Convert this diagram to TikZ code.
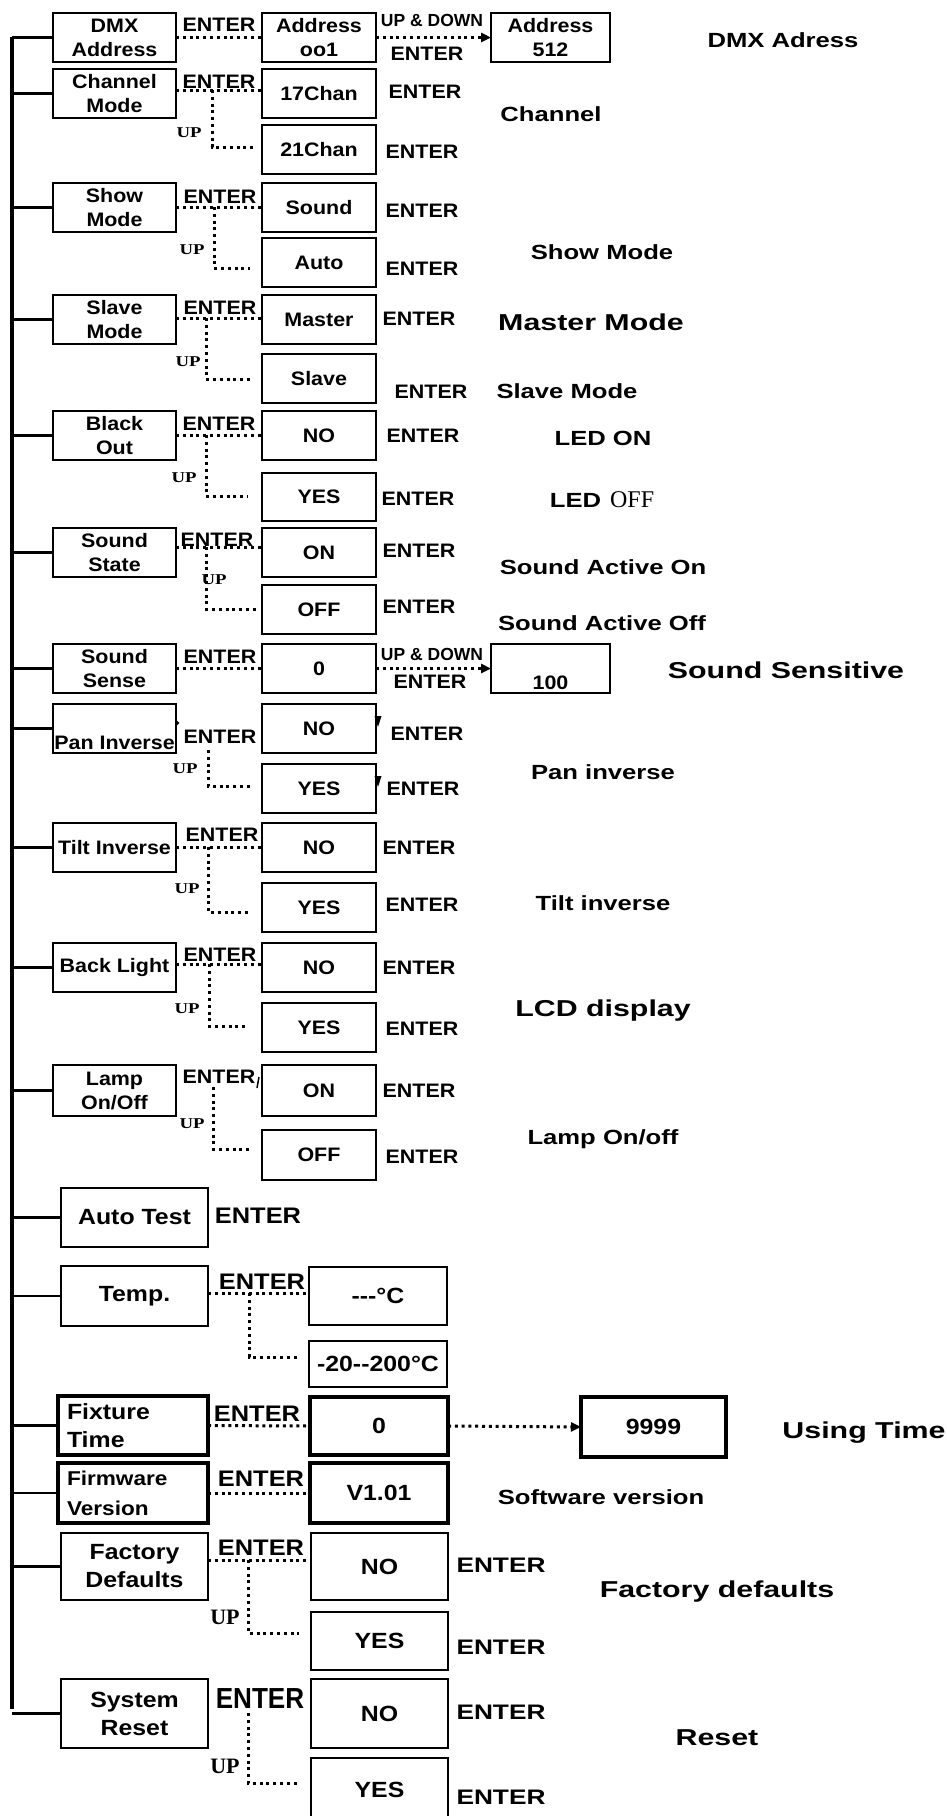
\documentclass[tikz,border=0pt]{standalone}
\usepackage{fontspec}
\usepackage{graphicx}
\usetikzlibrary{arrows.meta}
\setmainfont{Liberation Sans}
\newfontfamily\fBox{Liberation Sans}[FakeStretch=1.1]
\newfontfamily\fSide{Liberation Sans}[FakeStretch=1.25]
\newfontfamily\fBig{Liberation Sans}[FakeStretch=1.32]
\newfontfamily\fLow{Liberation Sans}[FakeStretch=1.13]
\newfontfamily\fNar{Liberation Sans}[FakeStretch=0.9]
\newfontfamily\fPlain{Liberation Sans}
\newfontfamily\fUp{Liberation Serif}[FakeStretch=1.25]
\newfontfamily\fUpL{Liberation Serif}
\newfontfamily\fSer{Liberation Serif}
\newcommand\bx[7][]{\node[box,minimum width={(#5-#3)*1pt},minimum height={(#6-#4)*1pt},#1] (#2) at ({(#3+#5)/2},{(#4+#6)/2}) {#7};}
\tikzset{
 box/.style={draw, line width=2.6pt, inner sep=0pt, outer sep=0pt, align=center, font=\fBox\bfseries\fontsize{19.5}{24}\selectfont},
 lowbox/.style={box, font=\fLow\bfseries\fontsize{22}{28}\selectfont},
 tbox/.style={lowbox, line width=4.2pt},
 mainline/.style={line width=3.6pt},
 stub/.style={line width=2.6pt},
 dots/.style={line width=3pt, dash pattern=on 3pt off 3.8pt},
 darrow/.style={dots, -{Triangle[length=10pt,width=9pt]}},
 enter/.style={inner sep=0pt, font=\fBox\bfseries\fontsize{19.5}{24}\selectfont, text height=14pt, text depth=0pt},
 enterL/.style={inner sep=0pt, font=\fLow\bfseries\fontsize{22.5}{27}\selectfont, text height=16pt, text depth=0pt},
 enterR/.style={inner sep=0pt, font=\fSide\bfseries\fontsize{21}{25}\selectfont, text height=15pt, text depth=0pt},
 enterB/.style={inner sep=0pt, font=\fNar\bfseries\fontsize{29}{34}\selectfont, text height=21pt, text depth=0pt},
 updown/.style={inner sep=0pt, font=\fPlain\bfseries\fontsize{17.5}{20}\selectfont, text height=12.6pt, text depth=0pt},
 up/.style={inner sep=0pt, font=\fUp\bfseries\fontsize{15}{18}\selectfont, text height=10pt, text depth=0pt},
 upL/.style={inner sep=0pt, font=\fUpL\bfseries\fontsize{22}{26}\selectfont, text height=14.6pt, text depth=0pt},
 side/.style={inner sep=0pt, font=\fSide\bfseries\fontsize{20.5}{24}\selectfont, text height=14.7pt, text depth=0pt},
 big/.style={inner sep=0pt, font=\fBig\bfseries\fontsize{23}{27}\selectfont, text height=16.5pt, text depth=0pt},
}
\begin{document}
\begin{tikzpicture}[x=1pt,y=-1pt]
\useasboundingbox (0,0) rectangle (947,1816);
\clip (0,0) rectangle (947,1816);
\fill[white] (0,0) rectangle (947,1816);

% ---------- row 1: DMX address
\bx{dmx}{53}{13}{176}{62}{DMX\\Address}
\bx{a001}{262}{13}{376}{62}{Address\\oo1}
\bx{a512}{491}{13}{610}{62}{Address\\512}
\node[enter] (e1) at (219,24) {ENTER};
\node[updown] (ud1) at (432,20) {UP \& DOWN};
\node[enter] (e1b) at (427,53) {ENTER};
\node[side] (s1) at (783,40) {DMX Adress};
\draw[dots] (dmx.east) -- (a001.west);
\draw[darrow] (a001.east) -- (a512.west);

% ---------- row 2: channel mode
\bx{cm}{53}{69}{176}{118}{Channel\\Mode}
\bx{c17}{262}{69}{376}{118}{17Chan}
\bx{c21}{262}{125}{376}{174}{21Chan}
\coordinate (j2) at (212,90); \coordinate (k2) at (254,147);
\draw[dots] (cm.east |- j2) -- (c17.west |- j2);
\draw[dots] (j2) |- (k2);
\node[enter] (e2) at (219,81) {ENTER};
\node[up] (u2) at (189,132) {UP};
\node[enter] (e2a) at (425,91) {ENTER};
\node[enter] (e2b) at (422,151) {ENTER};
\node[side] (s2) at (551,114) {Channel};

% ---------- row 3: show mode
\bx{sm}{53}{183}{176}{232}{Show\\Mode}
\bx{snd}{262}{183}{376}{232}{Sound}
\bx{aut}{262}{238}{376}{287}{Auto}
\coordinate (j3) at (214,207); \coordinate (k3) at (250,268);
\draw[dots] (sm.east |- j3) -- (snd.west |- j3);
\draw[dots] (j3) |- (k3);
\node[enter] (e3) at (220,196) {ENTER};
\node[up] (u3) at (192,249) {UP};
\node[enter] (e3a) at (422,210) {ENTER};
\node[enter] (e3b) at (422,268) {ENTER};
\node[side] (s3) at (602,252) {Show Mode};

% ---------- row 4: slave mode
\bx{slm}{53}{295}{176}{344}{Slave\\Mode}
\bx{mst}{262}{295}{376}{344}{Master}
\bx{slv}{262}{354}{376}{403}{Slave}
\coordinate (j4) at (206,318); \coordinate (k4) at (252,379);
\draw[dots] (slm.east |- j4) -- (mst.west |- j4);
\draw[dots] (j4) |- (k4);
\node[enter] (e4) at (220,307) {ENTER};
\node[up] (u4) at (188,361) {UP};
\node[enter] (e4a) at (419,318) {ENTER};
\node[enter] (e4b) at (431,391) {ENTER};
\node[big] (s4a) at (591,322) {Master Mode};
\node[side] (s4b) at (567,391) {Slave Mode};

% ---------- row 5: black out
\bx{bo}{53}{411}{176}{460}{Black\\Out}
\bx{bno}{262}{411}{376}{460}{NO}
\bx{byes}{262}{473}{376}{521}{YES}
\coordinate (j5) at (206,435); \coordinate (k5) at (248,496);
\draw[dots] (bo.east |- j5) -- (bno.west |- j5);
\draw[dots] (j5) |- (k5);
\node[enter] (e5) at (219,423) {ENTER};
\node[up] (u5) at (184,477) {UP};
\node[enter] (e5a) at (423,435) {ENTER};
\node[enter] (e5b) at (418,498) {ENTER};
\node[side] (s5a) at (603,438) {LED ON};
\node[side] (s5b) at (602,500) {LED\hspace{9pt}{\fSer\mdseries\fontsize{24}{26}\selectfont OFF}};

% ---------- row 6: sound state
\bx{ss}{53}{528}{176}{577}{Sound\\State}
\bx{son}{262}{528}{376}{577}{ON}
\bx{soff}{262}{585}{376}{634}{OFF}
\coordinate (j6) at (206,547); \coordinate (k6) at (256,609);
\draw[dots] (ss.east |- j6) -- (son.west |- j6);
\draw[dots] (j6) |- (k6);
\node[enter] (e6) at (217,539) {ENTER};
\node[up] (u6) at (214,579) {UP};
\node[enter] (e6a) at (419,550) {ENTER};
\node[enter] (e6b) at (419,606) {ENTER};
\node[side] (s6a) at (603,567) {Sound Active On};
\node[side] (s6b) at (602,623) {Sound Active Off};

% ---------- row 7: sound sense
\bx{sse}{53}{644}{176}{693}{Sound\\Sense}
\bx{s0}{262}{644}{376}{693}{0}
\bx{s100}{491}{644}{610}{693}{\smash{\raisebox{-21pt}{100}}}
\draw[dots] (sse.east) -- (s0.west);
\draw[darrow] (s0.east) -- (s100.west);
\node[enter] (e7) at (220,656) {ENTER};
\node[updown] (ud7) at (432,654) {UP \& DOWN};
\node[enter] (e7b) at (430,681) {ENTER};
\node[big] (s7) at (786,670) {Sound Sensitive};

% ---------- row 8: pan inverse
\bx{pi}{53}{704}{176}{753}{\smash{\raisebox{-20.5pt}{Pan Inverse}}}
\bx{pno}{262}{704}{376}{753}{NO}
\bx{pyes}{262}{764}{376}{813}{YES}
\coordinate (j8) at (208,750); \coordinate (k8) at (250,786);
\draw[dots] (j8) |- (k8);
\fill (175,719) -- (179.5,723) -- (175,727) -- cycle;
\fill (374.5,716) -- (381.5,716) -- (378,727) -- cycle;
\fill (374.5,776) -- (381.5,776) -- (378,787) -- cycle;
\node[enter] (e8) at (220,736) {ENTER};
\node[up] (u8) at (185,768) {UP};
\node[enter] (e8a) at (427,733) {ENTER};
\node[enter] (e8b) at (423,788) {ENTER};
\node[side] (s8) at (603,772) {Pan inverse};

% ---------- row 9: tilt inverse
\bx{ti}{53}{823}{176}{872}{Tilt Inverse}
\bx{tno}{262}{823}{376}{872}{NO}
\bx{tyes}{262}{883}{376}{932}{YES}
\coordinate (j9) at (208,847); \coordinate (k9) at (250,912);
\draw[dots] (ti.east |- j9) -- (tno.west |- j9);
\draw[dots] (j9) |- (k9);
\node[enter] (e9) at (222,834) {ENTER};
\node[up] (u9) at (187,888) {UP};
\node[enter] (e9a) at (419,847) {ENTER};
\node[enter] (e9b) at (422,904) {ENTER};
\node[side] (s9) at (603,903) {Tilt inverse};

% ---------- row 10: back light
\bx{bl}{53}{943}{176}{992}{Back Light}
\bx{lno}{262}{943}{376}{992}{NO}
\bx{lyes}{262}{1003}{376}{1052}{YES}
\coordinate (j10) at (209,964); \coordinate (k10) at (248,1026);
\draw[dots] (bl.east |- j10) -- (lno.west |- j10);
\draw[dots] (j10) |- (k10);
\node[enter] (e10) at (220,954) {ENTER};
\node[up] (u10) at (187,1008) {UP};
\node[enter] (e10a) at (419,967) {ENTER};
\node[enter] (e10b) at (422,1028) {ENTER};
\node[big] (s10) at (603,1008) {LCD display};

% ---------- row 11: lamp on/off
\bx{lo}{53}{1065}{176}{1116}{Lamp\\On/Off}
\bx{lon}{262}{1065}{376}{1116}{ON}
\bx{loff}{262}{1130}{376}{1180}{OFF}
\coordinate (j11) at (213,1087); \coordinate (k11) at (252,1149);
\draw[dots] (j11) |- (k11);
\draw[line width=1.5pt] (259,1077) -- (257,1088);
\node[enter] (e11) at (219,1076) {ENTER};
\node[up] (u11) at (192,1123) {UP};
\node[enter] (e11a) at (419,1090) {ENTER};
\node[enter] (e11b) at (422,1156) {ENTER};
\node[side] (s11) at (603,1137) {Lamp On/off};

% ---------- row 12: auto test
\bx[lowbox]{at}{61}{1188}{208}{1247}{Auto Test}
\node[enterL] (e12) at (258,1215) {ENTER};

% ---------- row 13: temperature
\bx[lowbox]{tp}{61}{1266}{208}{1326}{Temp.}
\bx[lowbox]{tc}{309}{1267}{447}{1325}{-{}-{}-°C}
\bx[lowbox]{tr}{309}{1341}{447}{1387}{-20-{}-200°C}
\coordinate (j13) at (249,1293); \coordinate (k13) at (300,1357);
\draw[dots] (tp.east |- j13) -- (tc.west |- j13);
\draw[dots] (j13) |- (k13);
\node[enterL] (e13) at (262,1281) {ENTER};

% ---------- row 14: fixture time
\bx[tbox, text width=132pt, inner xsep=9pt, align=left]{ft}{58}{1396}{208}{1455}{Fixture\\Time}
\bx[tbox]{f0}{310}{1397}{448}{1455}{0}
\bx[tbox]{f9}{581}{1397}{726}{1457}{9999}
\draw[dots] (ft.east) -- (f0.west);
\draw[darrow] (f0.east) -- (f9.west);
\node[enterL] (e14) at (257,1413) {ENTER};
\node[big] (s14) at (864,1430) {Using Time};

% ---------- row 15: firmware version
\bx[tbox, font=\fLow\bfseries\fontsize{20}{30}\selectfont, text width=132pt, inner xsep=9pt, align=left]{fw}{58}{1463}{208}{1523}{Firmware\\Version}
\bx[tbox]{fv}{310}{1463}{448}{1523}{V1.01}
\draw[dots] (fw.east) -- (fv.west);
\node[enterL] (e15) at (261,1478) {ENTER};
\node[side] (s15) at (601,1497) {Software version};

% ---------- row 16: factory defaults
\bx[lowbox]{fd}{61}{1533}{208}{1600}{Factory\\Defaults}
\bx[lowbox]{fno}{311}{1533}{448}{1600}{NO}
\bx[lowbox]{fyes}{311}{1612}{448}{1670}{YES}
\coordinate (j16) at (248,1560); \coordinate (k16) at (299,1633);
\draw[dots] (fd.east |- j16) -- (fno.west |- j16);
\draw[dots] (j16) |- (k16);
\node[enterL] (e16) at (261,1547) {ENTER};
\node[upL] (u16) at (225,1617) {UP};
\node[enterR] (e16a) at (501,1565) {ENTER};
\node[enterR] (e16b) at (501,1647) {ENTER};
\node[big] (s16) at (717,1589) {Factory defaults};

% ---------- row 17: system reset
\bx[lowbox]{sr}{61}{1679}{208}{1748}{System\\Reset}
\bx[lowbox]{rno}{311}{1679}{448}{1748}{NO}
\bx[lowbox]{ryes}{311}{1758}{448}{1822}{YES}
\coordinate (j17) at (248,1713); \coordinate (k17) at (299,1783);
\draw[dots] (j17) |- (k17);
\node[enterB] (e17) at (260,1698) {ENTER};
\node[upL] (u17) at (225,1766) {UP};
\node[enterR] (e17a) at (501,1712) {ENTER};
\node[enterR] (e17b) at (501,1797) {ENTER};
\node[big] (s17) at (717,1737) {Reset};

% ---------- main trunk
\coordinate (mtop) at (12,37);
\coordinate (mbot) at (12,1709);
\draw[mainline] (mtop) -- (mbot);
\foreach \n in {dmx,cm,sm,slm,bo,ss,sse,pi,ti,bl,lo,at,tp,ft,fw,fd,sr}
  \draw[stub] (mtop |- \n.west) -- (\n.west);
\end{tikzpicture}
\end{document}
